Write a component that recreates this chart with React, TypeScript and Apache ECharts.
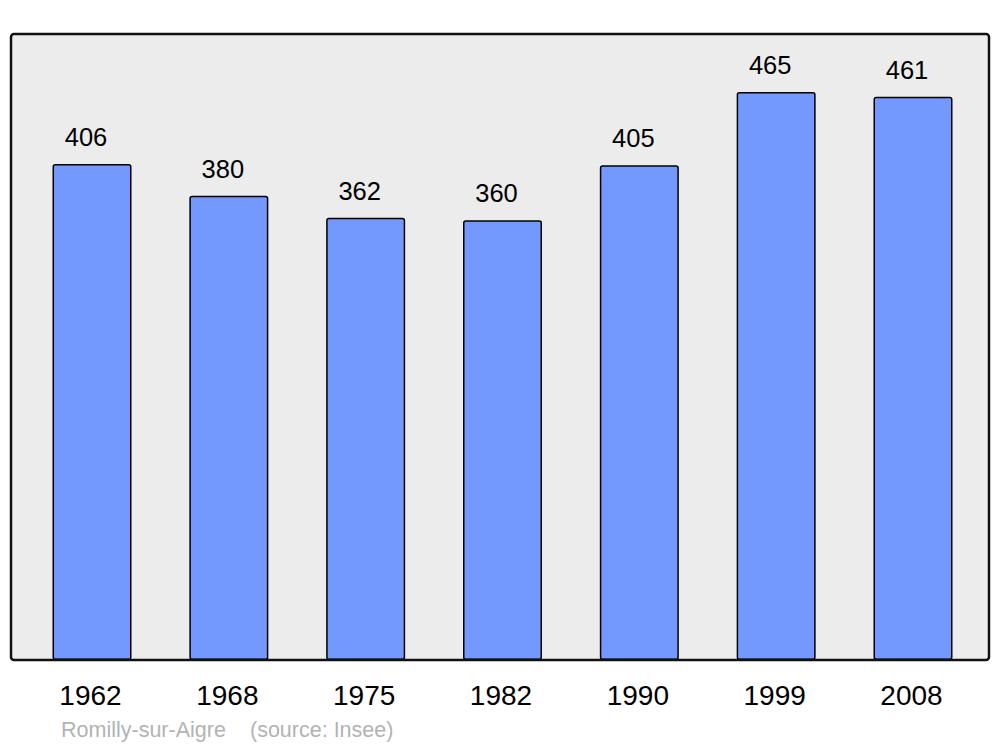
import React, { useEffect, useRef } from "react";
import * as echarts from "echarts";

const years = ["1962", "1968", "1975", "1982", "1990", "1999", "2008"];
const population = [406, 380, 362, 360, 405, 465, 461];
const place = "Romilly-sur-Aigre";
const source = "(source: Insee)";

export default function App() {
  const ref = useRef<HTMLDivElement>(null);
  useEffect(() => {
    document.body.style.margin = "0";
    const chart = echarts.init(ref.current!, null, { renderer: "svg" });
    const font = "'Liberation Sans', Arial, sans-serif";
    chart.setOption({
      animation: false,
      backgroundColor: "#ffffff",
      grid: { left: 23.6, right: 18.6, top: 34, bottom: 87, containLabel: false },
      xAxis: {
        type: "category",
        data: years,
        axisLine: { show: false },
        axisTick: { show: false },
        splitLine: { show: false },
        axisLabel: { fontSize: 28, color: "#000", fontFamily: font, margin: 21, padding: [0, 3, 0, 0] },
      },
      yAxis: {
        type: "value",
        min: 0,
        max: 512.4,
        show: false,
        splitLine: { show: false },
      },
      graphic: [
        {
          type: "rect",
          z: -10,
          silent: true,
          shape: { x: 11, y: 34, width: 978, height: 626, r: 3 },
          style: { fill: "#ececec", stroke: "none" },
        },
        {
          type: "rect",
          z: 100,
          silent: true,
          shape: { x: 11, y: 34, width: 978, height: 626, r: 3 },
          style: { fill: "none", stroke: "#111", lineWidth: 2.5 },
        },
        {
          type: "text",
          x: 61,
          y: 730,
          style: { text: place, fontSize: 21.5, fill: "#b3b3b3", fontFamily: font, verticalAlign: "middle" },
        },
        {
          type: "text",
          x: 250,
          y: 730,
          style: { text: source, fontSize: 21.5, fill: "#b3b3b3", fontFamily: font, verticalAlign: "middle" },
        },
      ],
      series: [
        {
          type: "bar",
          data: population,
          barWidth: 79,
          itemStyle: { color: "#7399ff", borderColor: "#000", borderWidth: 1.5, borderRadius: 2 },
          label: {
            show: true,
            position: "top",
            distance: 14,
            offset: [-6, 0],
            fontSize: 25.5,
            color: "#000",
            fontFamily: font,
          },
        },
      ],
    });
    return () => chart.dispose();
  }, []);
  return <div ref={ref} style={{ width: 1000, height: 747 }} />;
}
